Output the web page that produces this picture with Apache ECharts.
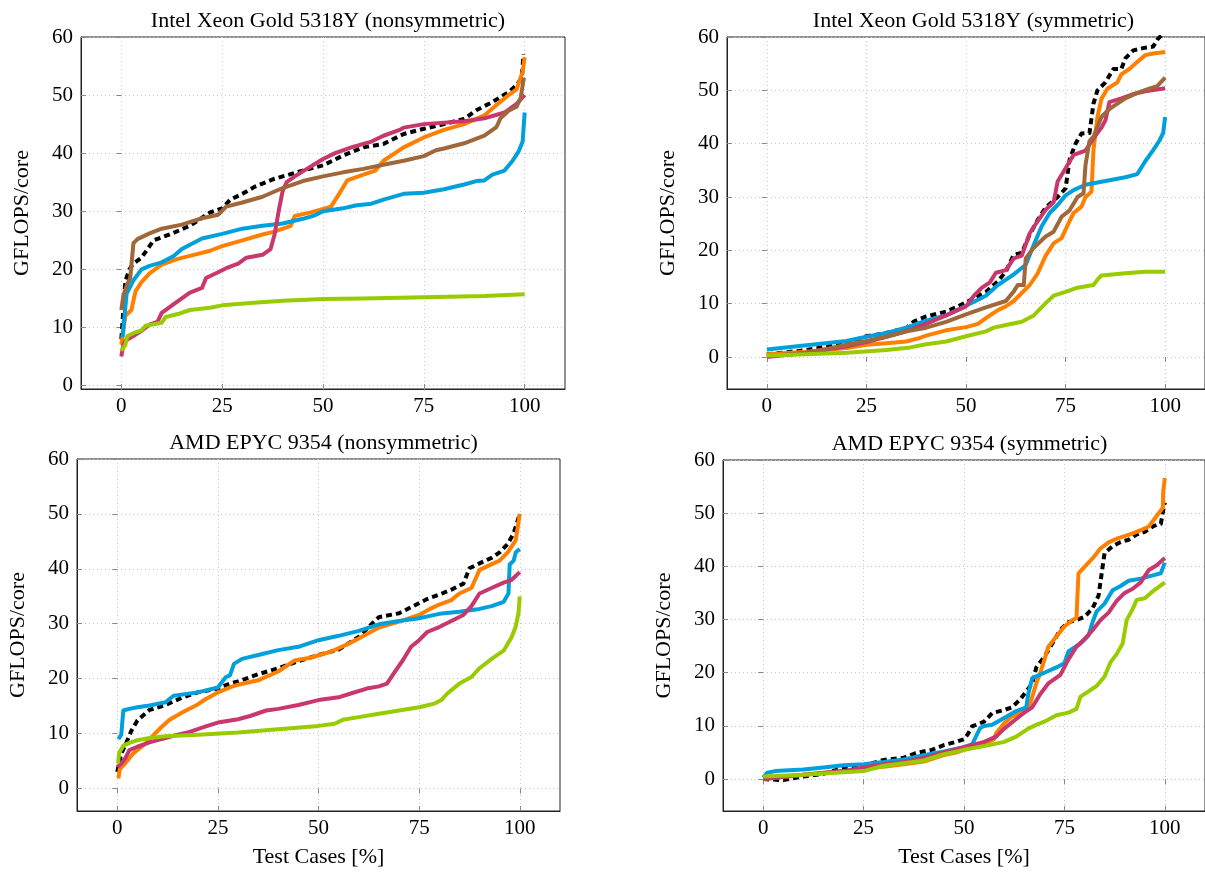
<!DOCTYPE html>
<html>
<head>
<meta charset="utf-8">
<script src="https://cdn.jsdelivr.net/npm/echarts@6/dist/echarts.min.js"></script>
<style>
  html, body { margin: 0; padding: 0; background: #fff; }
  #chart { width: 1205px; height: 873px; }
</style>
</head>
<body>
<div id="chart"></div>
<script>
// tick labels
const xTicks = [0, 25, 50, 75, 100];
const yTicks = [0, 10, 20, 30, 40, 50, 60];

const panelTitles = [
    'Intel Xeon Gold 5318Y (nonsymmetric)',
    'Intel Xeon Gold 5318Y (symmetric)',
    'AMD EPYC 9354 (nonsymmetric)',
    'AMD EPYC 9354 (symmetric)'
];

// panel 1: Intel nonsymmetric  ([test cases %, GFLOPS/core])
const p1Black = [[0,8],[0.5,13],[1,18],[2,20],[3,21],[5,22],[7,24],[8,25],[12,26],[17,27.5],[22,29.8],[25,30.5],[27,32],[30,33],[33,34.2],[38,35.6],[45,37],[50,37.9],[55,39.6],[60,41],[65,41.6],[70,43.3],[75,44.2],[80,45],[85,45.9],[88,47.4],[92,48.8],[96,50.5],[98,51.7],[99.3,53],[99.7,57]];
const p1Orange = [[0,7],[1,12],[2.5,13],[3.5,16.2],[5,17.8],[7,19.3],[10,20.8],[14,21.8],[18,22.5],[22,23.2],[25,24],[30,25],[35,26],[38,26.5],[42,27.5],[43,29.2],[47,29.8],[52,30.8],[54,33],[56,35.3],[60,36.3],[63,37],[65,38.7],[70,41],[75,42.7],[80,44],[85,45],[90,46.5],[93,48.3],[96,50],[98,51],[99.5,54],[100,56.5]];
const p1Blue = [[0.3,8.3],[1.3,15.8],[3,18.1],[5,20],[7,20.6],[10,21.2],[13,22.3],[15,23.5],[20,25.3],[25,26.1],[30,27],[35,27.5],[40,27.9],[45,28.7],[48,29.3],[50,30],[55,30.5],[58,31],[62,31.3],[65,32],[70,33],[75,33.2],[80,33.8],[85,34.6],[88,35.2],[90,35.3],[92,36.3],[95,37],[97,38.7],[98.5,40.3],[99.5,42],[100,47]];
const p1Magenta = [[0,5],[0.5,7],[1,7.7],[3,8.5],[5,9.4],[7,10.5],[9,11],[10,12.5],[13,14],[15,15],[17,16],[20,16.8],[21,18.5],[24,19.5],[26,20.2],[29,21],[31,22],[35,22.5],[37,23.5],[38,26],[39,30],[40,33.5],[41,35],[43,36],[46,37.3],[50,39],[53,40],[57,41],[62,42],[65,43],[69,44],[70,44.4],[75,45],[85,45.5],[90,46],[95,47],[98,48.5],[100,50]];
const p1Brown = [[0,13],[0.5,15.5],[1.5,17.5],[2.2,18.5],[3,24.5],[4,25.2],[7,26.2],[10,27],[15,27.7],[20,28.8],[24,29.4],[26,30.8],[30,31.5],[35,32.5],[40,34],[45,35.2],[50,36],[55,36.7],[60,37.3],[65,38],[70,38.7],[75,39.5],[78,40.5],[80,40.8],[85,41.7],[90,43],[93,44.5],[94,46],[96,47.3],[98,48],[99,49.5],[99.8,53]];
const p1Green = [[0,6],[1,7],[1.5,8.5],[3,9],[5,9.5],[6,10.3],[10,10.8],[11,11.8],[14,12.3],[17,13],[22,13.4],[25,13.8],[32,14.2],[40,14.6],[50,14.9],[60,15],[75,15.2],[90,15.4],[100,15.7]];

// panel 2: Intel symmetric
const p2Black = [[0,0.5],[10,1.3],[20,2.6],[25,3.9],[30,4.5],[35,5.4],[37,6.7],[40,7.6],[45,8.5],[48,9.5],[52,11],[55,12.2],[58,14.2],[60,16],[62,19.2],[64,19.5],[66,23],[68,25.7],[70,28],[73,30],[75,31.6],[76,37],[77.5,40],[79,41.9],[81,42],[82,47.5],[83,50],[85,51.5],[87,54],[89,54],[90,56],[92,57.5],[95,58],[97,58.2],[98,59.5],[100,61]];
const p2Orange = [[0,0.5],[10,1],[20,1.7],[25,2.3],[30,2.6],[35,2.9],[38,3.5],[40,4],[45,5],[50,5.6],[53,6.2],[55,7.3],[58,8.8],[60,9.5],[62,10.5],[64,12],[66,13.5],[68,15.7],[70,19],[72,21.3],[74,22.3],[76,25.5],[77,27],[79,28.2],[80,30],[81.5,31],[82,38.8],[83,45],[84,48.4],[85.5,50.3],[88,51.5],[89,53],[91,54],[93,55.3],[95,56.6],[97,56.9],[100,57.2]];
const p2Blue = [[0,1.4],[10,2.2],[20,3],[25,3.8],[30,4.5],[35,5.5],[40,6.8],[45,7.8],[50,9.6],[55,11.5],[58,13.5],[62,15.5],[65,17.3],[67,21],[69,24.5],[71,27],[73,28.5],[75,30.3],[77,31.3],[80,32.3],[85,33],[90,33.7],[93,34.3],[95,36.7],[97,38.8],[98.5,40.5],[99.5,42],[100,45]];
const p2Magenta = [[0,0],[10,0.8],[20,2],[25,2.8],[30,3.8],[35,4.8],[40,6.2],[45,7.8],[50,9.5],[52,11.5],[54,13],[56,14],[57.5,15.8],[60,16.3],[62,18.5],[64,19],[66,23.2],[68,25.5],[70,27.6],[72,29],[73,32.9],[75,35.4],[77,37.9],[80,38.7],[82,41],[84,43],[85,44.4],[86,47.8],[89,48.5],[92,49.3],[95,49.8],[100,50.4]];
const p2Brown = [[0,0.2],[10,0.8],[15,1.5],[20,2.3],[25,3],[30,3.8],[35,4.8],[40,5.5],[45,6.6],[50,8],[55,9.3],[60,10.5],[62,12.3],[63,13.5],[64.5,13.5],[65,18.5],[67,20.5],[70,22.6],[72,23.5],[74,26.3],[76,27.5],[78,30],[79.5,30.7],[80,36],[81,40.5],[82,41.3],[84,45],[86,46.5],[88,47.5],[90,48.5],[93,49.5],[96,50.3],[98,50.8],[100,52.4]];
const p2Green = [[0,0.3],[10,0.5],[20,0.8],[30,1.3],[36,1.8],[40,2.4],[45,2.9],[50,3.9],[55,4.8],[57,5.5],[60,6],[64,6.6],[67,7.8],[70,10.1],[72,11.5],[75,12.2],[78,13],[82,13.5],[83,14.5],[84,15.3],[90,15.7],[95,16],[100,16]];

// panel 3: AMD nonsymmetric
const p3Black = [[0,3],[1,6.4],[2,7.9],[3.5,10.5],[5,12.4],[8,14.3],[12,15.2],[16,16.5],[20,17.5],[25,18.2],[28,19.1],[30,19.5],[35,20.8],[40,21.9],[45,23.2],[50,24.3],[55,25.3],[60,27.6],[63,29.8],[65,31.2],[70,31.9],[73,33],[77,34.5],[80,35.3],[83,36.2],[86,37.3],[87.5,40.1],[90,41],[93,42],[95,43],[97,44.5],[98.5,46.5],[100,50]];
const p3Orange = [[0.3,1.8],[0.6,3.5],[2,4.6],[4,6.4],[7,8.2],[9,9.7],[11,11.2],[13,12.5],[16,13.8],[20,15.3],[22,16.3],[25,17.5],[28,18.4],[30,18.9],[35,19.7],[40,21.3],[44,23.3],[48,23.8],[53,24.9],[57,26.2],[60,27.3],[65,29.3],[70,30.4],[75,31.6],[78,32.8],[80,33.5],[83,34.3],[85,35.5],[88,36.5],[90,39.8],[92,40.5],[95,41.5],[97,43],[99,45.2],[100,50]];
const p3Blue = [[0.3,9],[1,9.8],[1.5,14.2],[3,14.5],[5,14.8],[8,15.1],[12,15.7],[14,16.9],[20,17.5],[25,18.4],[27,20.3],[28,20.6],[29,22.7],[31,23.6],[35,24.3],[40,25.2],[45,25.8],[50,27],[55,27.8],[60,28.7],[65,29.9],[70,30.5],[75,31],[80,31.8],[85,32.2],[90,32.7],[93,33.2],[96,34],[97.2,35.5],[97.5,40.8],[98.5,41.5],[99,43],[100,43.6]];
const p3Magenta = [[0,3.9],[1,4.5],[2,5.5],[3,7],[5,7.6],[8,8.4],[10,8.8],[12,9.2],[15,9.8],[18,10.3],[22,11.3],[25,12],[30,12.6],[33,13.2],[37,14.2],[40,14.5],[45,15.2],[50,16.1],[55,16.6],[58,17.3],[62,18.2],[65,18.6],[67,19.1],[69,21.3],[71,23.4],[73,25.8],[75,27],[77,28.5],[80,29.4],[83,30.5],[86,31.6],[88,33.2],[90,35.5],[93,36.5],[96,37.5],[98,38],[100,39.4]];
const p3Green = [[0.2,4.6],[0.5,6.5],[1.5,7.8],[3,8.3],[5,8.8],[8,9.2],[12,9.5],[20,9.8],[30,10.2],[40,10.8],[50,11.4],[54,11.8],[56,12.5],[60,13],[65,13.6],[70,14.2],[75,14.8],[79,15.5],[80.5,16.1],[82,17.3],[85,19.1],[88,20.3],[90,21.9],[93,23.6],[96,25.1],[98,27.6],[99,29.5],[99.7,32],[100,35]];

// panel 4: AMD symmetric
const p4Black = [[0,0],[5,-0.2],[10,0.5],[15,1],[20,2.1],[25,2.5],[30,3.6],[35,4],[38,4.9],[42,5.5],[45,6.4],[48,7],[50,7.5],[51,8.5],[52,9.9],[55,10.8],[57,12.4],[60,13],[62,13.5],[64,15],[66,17],[67,18],[68,21],[70,23],[72,25.5],[74,28.1],[76,29.5],[78,29.9],[80,30.5],[82,32.1],[83.5,34.5],[84.5,39.9],[85,42.5],[87,43.8],[89,44.6],[91,45],[93,46],[95,46.5],[97,47.5],[98,47.8],[99,48],[99.7,51],[100,52]];
const p4Orange = [[0,0],[10,0.8],[20,1.5],[25,2],[30,2.3],[35,2.8],[40,3.3],[45,4.5],[48,5],[50,5.5],[53,6.2],[56,7],[57.5,7.5],[58,8.6],[60,10.5],[62,11.8],[64,12.5],[66,13.1],[67,15.5],[68,18],[69,20],[70,22.4],[71,24.9],[73,26.8],[75,28.7],[77,29.9],[78,30.3],[78.5,38.7],[80,39.9],[82,41.5],[84,43.4],[86,44.5],[88,45.2],[90,45.7],[92,46.2],[94,46.8],[96,47.5],[97.5,49],[99,50.5],[99.5,51],[99.6,54],[100,56.6]];
const p4Blue = [[0,0.3],[1,1.2],[3,1.5],[10,1.8],[15,2.2],[20,2.6],[25,2.8],[30,3.2],[35,3.7],[40,4.5],[45,5.2],[50,6],[52,6.5],[54,9.6],[55,10],[57,10.2],[60,11.5],[63,12.8],[65.5,13.5],[66,16],[67,19],[70,20],[73,21],[75,21.8],[76,24],[79,25.5],[81,27],[82,29.5],[83,31.5],[85,33],[87,35.5],[89,36.3],[91,37.3],[94,37.7],[97,38.3],[99,38.7],[100,40.7]];
const p4Magenta = [[0,0],[10,0.8],[20,1.5],[25,2.2],[30,2.8],[35,3.2],[40,4],[45,5],[50,6],[55,7],[58,8],[60,9.5],[63,11.3],[65,12.5],[67,13.5],[69,16],[71,18],[74,19.6],[76,22.5],[78,24.9],[80,26.3],[82,28],[84,29.9],[86,31.3],[88,33.5],[90,35],[92,35.8],[94,37],[96,39.3],[98,40.2],[100,41.6]];
const p4Green = [[0,0.5],[10,0.8],[20,1.3],[25,1.5],[30,2.5],[35,3],[40,3.5],[45,4.7],[50,5.5],[55,6.2],[60,7],[63,8],[66,9.5],[68,10.2],[70,10.8],[73,12],[76,12.5],[78,13.2],[79,15.5],[81,16.5],[83,17.5],[85,19.3],[86.5,22],[88,23.5],[89.5,25.5],[90.5,29.9],[92,32],[93,33.7],[95,34],[97,35.3],[100,37]];

const COLORS = {
    black: '#000000',
    orange: '#ff8000',
    blue: '#00a0dc',
    magenta: '#c8376e',
    brown: '#a0673a',
    green: '#99cc00'
};

const FONT = 'Liberation Serif';

// grid boxes in pixels and the y limits of every panel
const panels = [
    { left: 81,  top: 37,  width: 484, height: 352, ymin: -0.6, xName: '',
      lines: [['black', p1Black], ['orange', p1Orange], ['blue', p1Blue], ['magenta', p1Magenta], ['brown', p1Brown], ['green', p1Green]] },
    { left: 727, top: 37,  width: 483, height: 352, ymin: -6, xName: '',
      lines: [['black', p2Black], ['orange', p2Orange], ['blue', p2Blue], ['magenta', p2Magenta], ['brown', p2Brown], ['green', p2Green]] },
    { left: 77,  top: 459, width: 483, height: 352, ymin: -4.1, xName: 'Test Cases [%]',
      lines: [['black', p3Black], ['orange', p3Orange], ['blue', p3Blue], ['magenta', p3Magenta], ['green', p3Green]] },
    { left: 723, top: 460, width: 483, height: 351, ymin: -6, xName: 'Test Cases [%]',
      lines: [['black', p4Black], ['orange', p4Orange], ['blue', p4Blue], ['magenta', p4Magenta], ['green', p4Green]] }
];

const tickFont = { color: '#000', fontFamily: FONT, fontSize: 21 };
const nameFont = { color: '#000', fontFamily: FONT, fontSize: 22 };
const tickStyle = { show: true, inside: true, length: 5, lineStyle: { color: '#888', width: 1 } };
const gridLine = { show: true, lineStyle: { color: '#c8c8c8', type: [1, 3], width: 1 } };

const grids = [], xAxes = [], yAxes = [], series = [], titles = [];

panels.forEach((p, i) => {
    grids.push({ left: p.left, top: p.top, width: p.width, height: p.height,
        show: true, borderColor: '#222', borderWidth: 1, backgroundColor: 'transparent' });

    titles.push({ text: panelTitles[i], left: p.left + p.width / 2, top: p.top - 32, textAlign: 'center',
        textStyle: { color: '#000', fontFamily: FONT, fontSize: 22, fontWeight: 'normal' } });

    // bottom / left axes with labels, top / right mirrors only carry ticks
    xAxes.push({ type: 'value', gridIndex: i, min: -10, max: 110, position: 'bottom',
        name: p.xName, nameLocation: 'middle', nameGap: 35, nameTextStyle: nameFont,
        axisLine: { show: true, onZero: false, lineStyle: { color: '#222', width: 1 } },
        axisTick: Object.assign({ customValues: xTicks }, tickStyle),
        axisLabel: { customValues: xTicks, margin: 7, ...tickFont },
        splitLine: gridLine });
    xAxes.push({ type: 'value', gridIndex: i, min: -10, max: 110, position: 'top',
        axisLine: { show: false },
        axisTick: Object.assign({ customValues: xTicks }, tickStyle),
        axisLabel: { show: false }, splitLine: { show: false } });
    yAxes.push({ type: 'value', gridIndex: i, min: p.ymin, max: 60, position: 'left',
        name: 'GFLOPS/core', nameLocation: 'middle', nameGap: 48, nameRotate: 90, nameTextStyle: nameFont,
        axisLine: { show: true, onZero: false, lineStyle: { color: '#222', width: 1 } },
        axisTick: Object.assign({ customValues: yTicks }, tickStyle),
        axisLabel: { customValues: yTicks, margin: 8, ...tickFont },
        splitLine: gridLine });
    yAxes.push({ type: 'value', gridIndex: i, min: p.ymin, max: 60, position: 'right',
        axisLine: { show: false },
        axisTick: Object.assign({ customValues: yTicks }, tickStyle),
        axisLabel: { show: false }, splitLine: { show: false } });

    p.lines.forEach(([key, data]) => {
        series.push({
            type: 'line',
            xAxisIndex: i * 2,
            yAxisIndex: i * 2,
            data: data,
            showSymbol: false,
            symbol: 'none',
            smooth: false,
            clip: true,
            animation: false,
            lineStyle: {
                color: COLORS[key],
                width: 4,
                type: key === 'black' ? [6, 4] : 'solid',
                join: 'round'
            }
        });
    });
});

const myChart = echarts.init(document.getElementById('chart'), null, { renderer: 'canvas' });
myChart.setOption({
    animation: false,
    backgroundColor: '#fff',
    title: titles,
    grid: grids,
    xAxis: xAxes,
    yAxis: yAxes,
    series: series
});
</script>
</body>
</html>
